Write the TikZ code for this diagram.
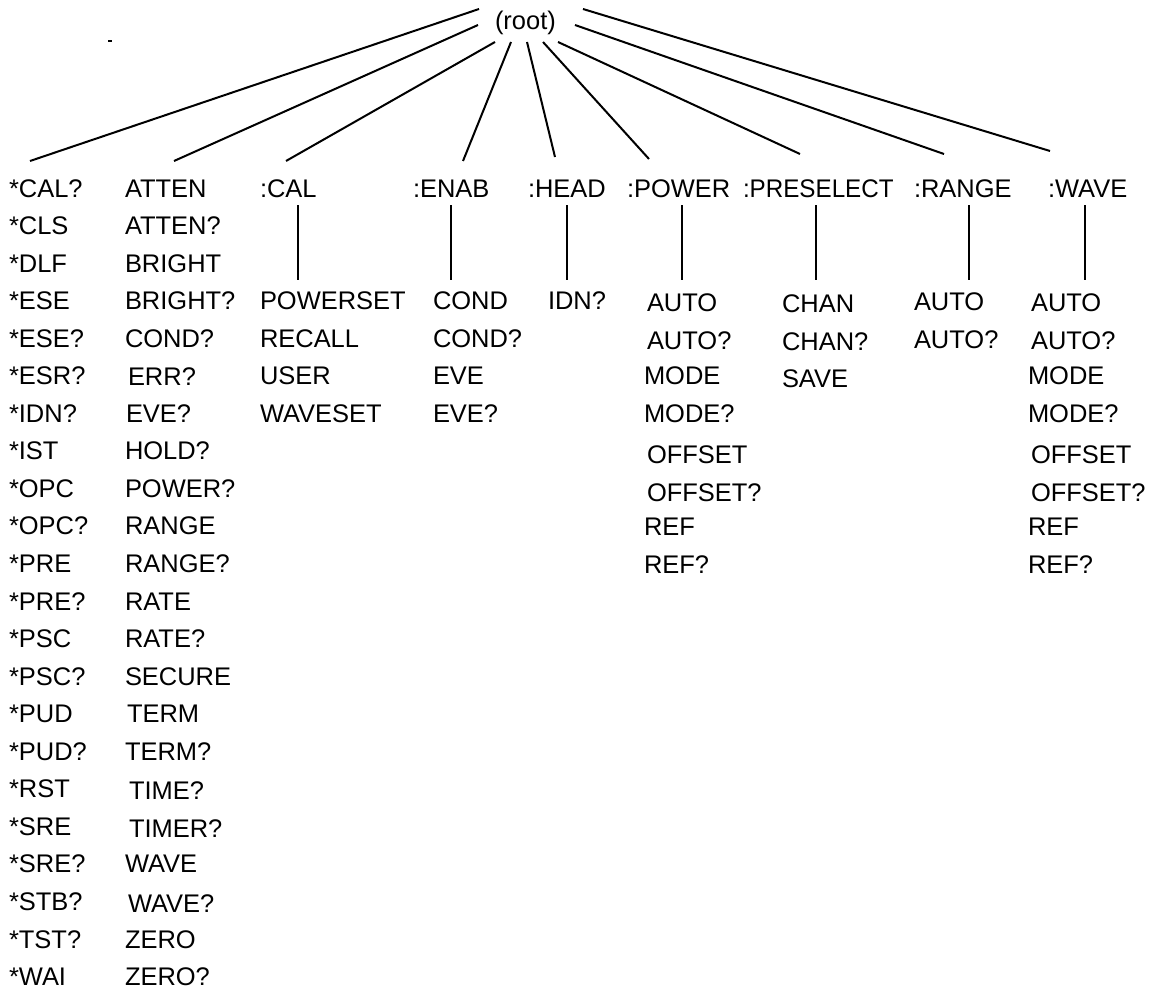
\documentclass[tikz,border=0pt]{standalone}
\usepackage{fontspec}
\setmainfont{Liberation Sans}
\begin{document}
\begin{tikzpicture}[x=0.75pt,y=-0.75pt,
  lbl/.style={anchor=base west,inner sep=0pt,outer sep=0pt,font=\fontsize{19.1}{23}\selectfont},
  conn/.style={line width=1.5pt,line cap=butt}]
\useasboundingbox (0,0) rectangle (1149,1002);
\pgfmathsetmacro{\rs}{37.55}
\pgfmathsetmacro{\rz}{197}
% root
\node[lbl] (root) at (495,30) {(root)};
% column 1
\foreach \t [count=\i from 0] in {*CAL?,*CLS,*DLF,*ESE,*ESE?,*ESR?,*IDN?,*IST,*OPC,*OPC?,*PRE,*PRE?,*PSC,*PSC?,*PUD,*PUD?,*RST,*SRE,*SRE?,*STB?,*TST?,*WAI}
  \node[lbl] (a\i) at (9,{\rz+\rs*\i}) {\t};
% column 2
\foreach \t/\dx/\dy [count=\i from 0] in {ATTEN/0/0,ATTEN?/0/0,BRIGHT/0/0,BRIGHT?/0/0,COND?/0/0,ERR?/3/1,EVE?/1/0,HOLD?/0/0,POWER?/0/0,RANGE/0/0,RANGE?/0/0,RATE/0/0,RATE?/0/0,SECURE/0/0,TERM/2/0,TERM?/0/0,TIME?/4/2,TIMER?/4/2,WAVE/0/0,WAVE?/3/2,ZERO/0/0,ZERO?/0/0}
  \node[lbl] (b\i) at ({125+\dx},{\rz+\rs*\i+\dy}) {\t};
% headers
\node[lbl] (hcal) at (260,\rz) {:CAL};
\node[lbl] (henab) at (413,\rz) {:ENAB};
\node[lbl] (hhead) at (528,\rz) {:HEAD};
\node[lbl] (hpower) at (627,\rz) {:POWER};
\node[lbl] (hpre) at (743,\rz) {\scalebox{0.95}[1]{:PRESELECT}};
\node[lbl] (hrange) at (914,\rz) {:RANGE};
\node[lbl] (hwave) at (1048,\rz) {:WAVE};
% :CAL items
\foreach \t [count=\i from 3] in {POWERSET,RECALL,USER,WAVESET}
  \node[lbl] (cal\i) at (260,{\rz+\rs*\i}) {\t};
% :ENAB items
\foreach \t [count=\i from 3] in {COND,COND?,EVE,EVE?}
  \node[lbl] (enab\i) at (433,{\rz+\rs*\i}) {\t};
% :HEAD items
\node[lbl] (head3) at (548,{\rz+3*\rs}) {IDN?};
% :POWER items
\foreach \t/\dx/\dy [count=\i from 3] in {AUTO/3/2,AUTO?/3/2,MODE/0/0,MODE?/0/0,OFFSET/3/4,OFFSET?/3/4,REF/0/1,REF?/0/1}
  \node[lbl] (pow\i) at ({644+\dx},{\rz+\rs*\i+\dy}) {\t};
% :PRESELECT items
\foreach \t [count=\i from 3] in {CHAN,CHAN?,SAVE}
  \node[lbl] (pre\i) at (782,{\rz+3+\rs*\i}) {\t};
% :RANGE items
\foreach \t [count=\i from 3] in {AUTO,AUTO?}
  \node[lbl] (rng\i) at (914,{\rz+1+\rs*\i}) {\t};
% :WAVE items
\foreach \t/\dx/\dy [count=\i from 3] in {AUTO/3/2,AUTO?/3/2,MODE/0/0,MODE?/0/0,OFFSET/3/4,OFFSET?/3/4,REF/0/1,REF?/0/1}
  \node[lbl] (wav\i) at ({1028+\dx},{\rz+\rs*\i+\dy}) {\t};
% fan coordinates
\coordinate (r1) at (479,9);   \coordinate (e1) at (30,161);
\coordinate (r2) at (478,25);  \coordinate (e2) at (174,161);
\coordinate (r3) at (495,42);  \coordinate (e3) at (286,161);
\coordinate (r4) at (511,42);  \coordinate (e4) at (463,161);
\coordinate (r5) at (527,42);  \coordinate (e5) at (555,157);
\coordinate (r6) at (543,42);  \coordinate (e6) at (649,159);
\coordinate (r7) at (558,42);  \coordinate (e7) at (800,154);
\coordinate (r8) at (575,25);  \coordinate (e8) at (944,154);
\coordinate (r9) at (583,9);   \coordinate (e9) at (1050,151);
\foreach \k in {1,...,9} \draw[conn] (r\k) -- (e\k);
% vertical connectors
\foreach \n/\x in {cal/298,enab/451,head/567,power/682,pre/816,range/969,wave/1085}{
  \coordinate (\n top) at (\x,205);
  \coordinate (\n bot) at (\x,280);
  \draw[conn] (\n top) -- (\n bot);
}
% stray mark
\coordinate (dA) at (108,41);
\coordinate (dB) at (112,41);
\draw[line width=1.1pt] (dA) -- (dB);
\end{tikzpicture}
\end{document}
